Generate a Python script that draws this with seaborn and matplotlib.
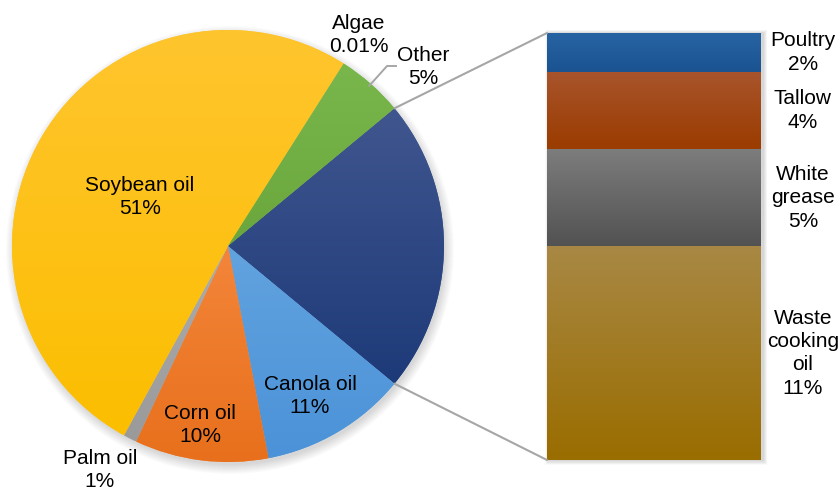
import numpy as np
import matplotlib
matplotlib.use("Agg")
import matplotlib.pyplot as plt
import matplotlib.transforms as mtransforms
from matplotlib.patches import Circle, Rectangle, ConnectionPatch
from matplotlib.colors import LinearSegmentedColormap
import seaborn as sns

# ---- data -------------------------------------------------------------
pie_labels = ["Animal fats & waste oils", "Canola oil", "Corn oil", "Palm oil",
              "Soybean oil", "Algae", "Other"]
pie_values = [22, 11, 10, 1, 51, 0.01, 5]

bar_labels = ["Waste\ncooking\noil", "White\ngrease", "Tallow", "Poultry"]
bar_values = [11, 5, 4, 2]

# ---- style ------------------------------------------------------------
sns.set_theme(style="white")
plt.rcParams["font.family"] = ["Liberation Sans", "DejaVu Sans"]
FS = 15
LS = 1.3

# (top colour, bottom colour) for each slice / segment
pie_colors = [("#40568f", "#1d3a78"),   # animal fats
              ("#62a3df", "#4b92d8"),   # canola
              ("#f3853a", "#e8701c"),   # corn
              ("#adadad", "#9a9a9a"),   # palm
              ("#ffc52e", "#fcbe00"),   # soybean
              ("#8cc063", "#8cc063"),   # algae
              ("#79b74d", "#6aa63c")]   # other
bar_colors = [("#a88844", "#9a6d00"),   # waste cooking oil
              ("#7d7d7d", "#525252"),   # white grease
              ("#a8542c", "#9b3c00"),   # tallow
              ("#2763a3", "#1b5391")]   # poultry

W, H = 840, 491
fig = plt.figure(figsize=(W / 100, H / 100), dpi=100)
ax = fig.add_axes([0, 0, 1, 1])

cx, cy, R = 228, H - 246, 216


def vgrad(top, bottom, n=256):
    cmap = LinearSegmentedColormap.from_list("g", [top, bottom])
    return cmap(np.linspace(0, 1, n))[:, None, :]


# soft shadow under the pie
for i in range(10):
    ax.add_patch(Circle((cx + 2, cy - 4), R + 8 - i, color="black",
                        alpha=0.015, lw=0, zorder=0))

wedges, _ = ax.pie(pie_values, center=(cx, cy), radius=R,
                   startangle=39.6, counterclock=False,
                   colors=[c[0] for c in pie_colors],
                   wedgeprops=dict(linewidth=0))

# vertical gradient fill on each slice
for w, (top, bot) in zip(wedges, pie_colors):
    w.set_zorder(1)
    ext = w.get_path().get_extents(w.get_patch_transform())
    if ext.height <= 0:
        continue
    im = ax.imshow(vgrad(top, bot), extent=(ext.x0, ext.x1, ext.y0, ext.y1),
                   origin="upper", aspect="auto", zorder=2,
                   interpolation="bilinear")
    im.set_clip_path(w)

ax.set_xlim(0, W)
ax.set_ylim(0, H)
ax.set_aspect("auto")
ax.axis("off")

# slice labels
pie_text = [f"{lab}\n{val:g}%" for lab, val in zip(pie_labels, pie_values)]
label_pos = {1: (310, H - 396), 2: (200, H - 425), 3: (100, H - 470),
             4: (140, H - 197), 5: (359, H - 35), 6: (423, H - 67)}
for i, (x, y) in label_pos.items():
    ax.text(x, y, pie_text[i], ha="center", va="center", fontsize=FS,
            color="black", linespacing=LS, zorder=5)

# leader line to the small "Other" slice
w_other = wedges[6]
mid = np.deg2rad((w_other.theta1 + w_other.theta2) / 2)
p0 = (cx + 0.985 * R * np.cos(mid), cy + 0.985 * R * np.sin(mid))
ax.plot([p0[0], 387, 397], [p0[1], H - 66, H - 66], color="#a6a6a6",
        lw=1.4, zorder=4, solid_capstyle="butt")

# ---- stacked bar (breakdown of the first slice) -------------------------
bx0, bx1, by0, by1 = 547, 761, 33, 460
bax = fig.add_axes([bx0 / W, (H - by1) / H, (bx1 - bx0) / W, (by1 - by0) / H])

# shadow around the bar
for i in range(8):
    ax.add_patch(Rectangle((bx0 - 4 + i * 0.5 + 2, H - by1 - 5 + i * 0.6),
                           (bx1 - bx0) + 8 - i, (by1 - by0) + 8 - i,
                           color="black", alpha=0.018, lw=0, zorder=0))

cum = np.cumsum(bar_values)
total = cum[-1]
# draw cumulative heights, tallest first, so each segment shows on top
for k in range(len(bar_values) - 1, -1, -1):
    sns.barplot(x=["fats"], y=[cum[k]], color=bar_colors[k][0], width=1.0,
                saturation=1, linewidth=0, ax=bax)

lows = np.concatenate([[0], cum[:-1]])
for lo, hi, (top, bot) in zip(lows, cum, bar_colors):
    bax.imshow(vgrad(top, bot), extent=(-0.5, 0.5, lo, hi), origin="upper",
               aspect="auto", zorder=3, interpolation="bilinear")

bax.set_xlim(-0.5, 0.5)
bax.set_ylim(0, total)
bax.axis("off")

lab_tr = mtransforms.blended_transform_factory(bax.transAxes, bax.transData)
for lo, hi, lab, val in zip(lows, cum, bar_labels, bar_values):
    bax.text((803 - bx0) / (bx1 - bx0), (lo + hi) / 2, f"{lab}\n{val:g}%",
             transform=lab_tr, ha="center", va="center", fontsize=FS,
             color="black", linespacing=LS, clip_on=False)

# connector lines from the exploded slice to the bar
w_fat = wedges[0]
for ang, yb in ((w_fat.theta2, total), (w_fat.theta1, 0)):
    a = np.deg2rad(ang)
    pA = (cx + R * np.cos(a), cy + R * np.sin(a))
    con = ConnectionPatch(xyA=pA, coordsA=ax.transData, xyB=(-0.5, yb),
                          coordsB=bax.transData, color="#a6a6a6", lw=1.5,
                          zorder=4)
    fig.add_artist(con)

fig.savefig("out.png", dpi=100, facecolor="white")
